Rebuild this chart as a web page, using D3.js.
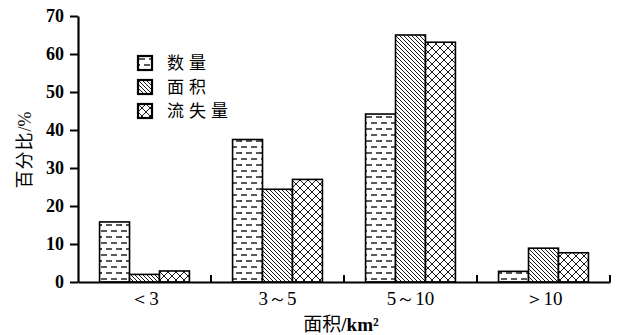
<!DOCTYPE html>
<html><head><meta charset="utf-8">
<script src="https://cdn.jsdelivr.net/npm/d3@7"></script>
<style>body{margin:0;background:#fff} text{fill:#000}</style>
</head><body>
<svg id="c" width="621" height="335"></svg>
<script>
const categories = ["＜3", "3～5", "5～10", "＞10"];
const seriesNames = ["数量", "面积", "流失量"];
const countValues = [15.8, 37.5, 44.2, 2.8];
const areaValues = [2.0, 24.4, 65.0, 8.9];
const lossValues = [2.9, 27.0, 63.1, 7.7];
const yTicks = [0, 10, 20, 30, 40, 50, 60, 70];

const series = [countValues, areaValues, lossValues];
const svg = d3.select("#c");
const m = {l: 78, r: 11, t: 16, b: 53};
const W = 621, H = 335;
const serif = "'Liberation Serif', 'DejaVu Serif', serif";
const cjk = "'Noto Sans CJK SC', sans-serif";

const defs = svg.append("defs");
const p1 = defs.append("pattern").attr("id", "p0").attr("patternUnits", "userSpaceOnUse")
  .attr("width", 20).attr("height", 12);
p1.append("rect").attr("width", 20).attr("height", 12).attr("fill", "#fff");
[[1,3,7],[11,3,17],[6,9,12],[16,9,22],[-4,9,2]].forEach(([x1,yy,x2]) =>
  p1.append("line").attr("x1", x1).attr("x2", x2).attr("y1", yy).attr("y2", yy)
    .attr("stroke", "#000").attr("stroke-width", 1.3));
const p2 = defs.append("pattern").attr("id", "p1").attr("patternUnits", "userSpaceOnUse")
  .attr("width", 4).attr("height", 4);
p2.append("rect").attr("width", 4).attr("height", 4).attr("fill", "#fff");
p2.append("path").attr("d", "M-1,-1L5,5M-1,3L1,5M3,-1L5,1").attr("stroke", "#000").attr("stroke-width", 0.9);
const p3 = defs.append("pattern").attr("id", "p2").attr("patternUnits", "userSpaceOnUse")
  .attr("width", 8).attr("height", 8);
p3.append("rect").attr("width", 8).attr("height", 8).attr("fill", "#fff");
p3.append("path").attr("d", "M0,0L8,8M8,0L0,8").attr("stroke", "#000").attr("stroke-width", 0.9);

const x = d3.scaleBand().domain(categories).range([m.l, W - m.r]).paddingInner(0).paddingOuter(0);
const xi = d3.scaleBand().domain(d3.range(3)).range([0, x.bandwidth()]).paddingOuter(0.72).paddingInner(0);
const y = d3.scaleLinear().domain([0, 70]).range([H - m.b, m.t]);

const g = svg.append("g");
categories.forEach((c, ci) => {
  series.forEach((s, si) => {
    g.append("rect")
      .attr("x", x(c) + xi(si)).attr("width", xi.bandwidth())
      .attr("y", y(s[ci])).attr("height", y(0) - y(s[ci]))
      .attr("fill", `url(#p${si})`).attr("stroke", "#000").attr("stroke-width", 1.6);
  });
});

const ya = svg.append("g").attr("transform", `translate(${m.l},0)`)
  .call(d3.axisLeft(y).tickValues(yTicks).tickSize(8).tickPadding(6).tickSizeOuter(0));
ya.attr("font-family", null).attr("font-size", null);
ya.select(".domain").attr("stroke-width", 2.2);
ya.selectAll(".tick line").attr("stroke-width", 2);
ya.selectAll("text").style("font-family", serif).style("font-weight", "bold")
  .style("font-size", "18px").attr("dy", "0.33em");

const xa = svg.append("g").attr("transform", `translate(0,${y(0)})`)
  .call(d3.axisBottom(x).tickSize(0).tickPadding(10));
xa.attr("font-family", null).attr("font-size", null);
xa.select(".domain").attr("stroke-width", 2.2);
xa.selectAll("text").style("font-family", serif).style("font-size", "19px");
const bounds = categories.map(c => x(c)).slice(1).concat([x.range()[1]]);
bounds.forEach(b => {
  svg.append("line").attr("x1", b).attr("x2", b).attr("y1", y(0)).attr("y2", y(0) - 7)
    .attr("stroke", "#000").attr("stroke-width", 2);
});

const yt = svg.append("text").attr("transform", `translate(25,${(m.t + H - m.b) / 2 + 1}) rotate(-90)`)
  .attr("text-anchor", "middle").attr("dy", "0.35em").style("font-size", "18px");
yt.append("tspan").style("font-family", cjk).attr("letter-spacing", 1).text("百分比");
yt.append("tspan").style("font-family", serif).text("/%");

const xt = svg.append("text").attr("x", 341).attr("y", 331).attr("text-anchor", "middle")
  .style("font-size", "19px");
xt.append("tspan").style("font-family", cjk).text("面积");
xt.append("tspan").style("font-family", serif).style("font-weight", "bold").text("/km²");

const lg = svg.append("g").attr("transform", "translate(138,56)");
seriesNames.forEach((n, i) => {
  const r = lg.append("g").attr("transform", `translate(0,${i * 24})`);
  r.append("rect").attr("x", 0).attr("y", 0).attr("width", 14).attr("height", 14)
    .attr("fill", `url(#p${i})`).attr("stroke", "#000").attr("stroke-width", 2.2);
  r.append("text").attr("x", 29).attr("y", 7).attr("dy", "0.36em")
    .style("font-family", cjk).style("font-size", "17px")
    .attr("letter-spacing", 5).text(n);
});
</script>
</body></html>
